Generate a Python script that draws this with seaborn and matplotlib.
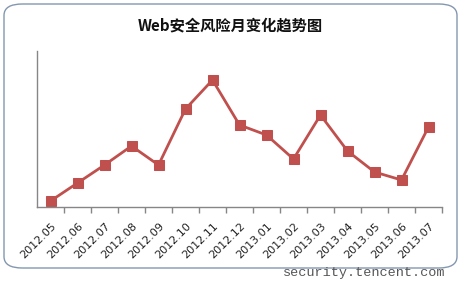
import matplotlib
matplotlib.use("Agg")
import matplotlib.pyplot as plt
import seaborn as sns
import pandas as pd
import numpy as np
from matplotlib.patches import FancyBboxPatch

months = ["2012.05", "2012.06", "2012.07", "2012.08", "2012.09", "2012.10", "2012.11",
          "2012.12", "2013.01", "2013.02", "2013.03", "2013.04", "2013.05", "2013.06", "2013.07"]
risk = [6, 24, 42, 61, 42, 98, 127, 82, 72, 48, 92, 56, 35, 27, 80]

title = "Web安全风险月变化趋势图"
watermark = "security.tencent.com"

sns.set_theme(style="white")
plt.rcParams['font.family'] = ['Noto Sans CJK SC', 'DejaVu Sans']

df = pd.DataFrame({"idx": np.arange(len(months)), "risk": risk})

fig = plt.figure(figsize=(4.61, 2.84), dpi=100)
ax = fig.add_axes([37/461, 1-207/284, (442-37)/461, (207-51)/284])

sns.lineplot(data=df, x="idx", y="risk", ax=ax, color="#C0504D", linewidth=2.0,
             marker="s", markersize=6.5, markeredgecolor="#C0504D")

ax.set_xlim(-0.5, len(months) - 0.5)
ax.set_ylim(0, 156)
ax.set_xlabel("")
ax.set_ylabel("")
ax.set_yticks([])
ax.set_xticks(np.arange(len(months)))
ax.set_xticklabels(months, rotation=45, ha="right", rotation_mode="anchor",
                   fontsize=8, family=["DejaVu Sans"], color="#222222")
ax.set_xticks(np.arange(len(months)) + 0.5, minor=True)
ax.tick_params(axis="x", which="major", length=0, pad=10)
ax.tick_params(axis="x", which="minor", length=4, width=1, color="#868686", direction="out", bottom=True)
for s in ["top", "right"]:
    ax.spines[s].set_visible(False)
for s in ["left", "bottom"]:
    ax.spines[s].set_color("#868686")
    ax.spines[s].set_linewidth(1)

fig.text(230/461, 1-25/284, title, ha="center", va="center", fontsize=11,
         fontweight="bold", color="#111111")

border = FancyBboxPatch((4/461, 1-268/284), (457-4)/461, (268-4)/284,
                        boxstyle="round,pad=0,rounding_size=0.04",
                        transform=fig.transFigure, fill=False,
                        edgecolor="#8497b0", linewidth=1.0)
fig.patches.append(border)

fig.text(445/461, 1-273/284, watermark, ha="right", va="center", fontsize=9.7,
         family=["Liberation Mono"], color="#555555")

fig.savefig("out.png", dpi=100)
